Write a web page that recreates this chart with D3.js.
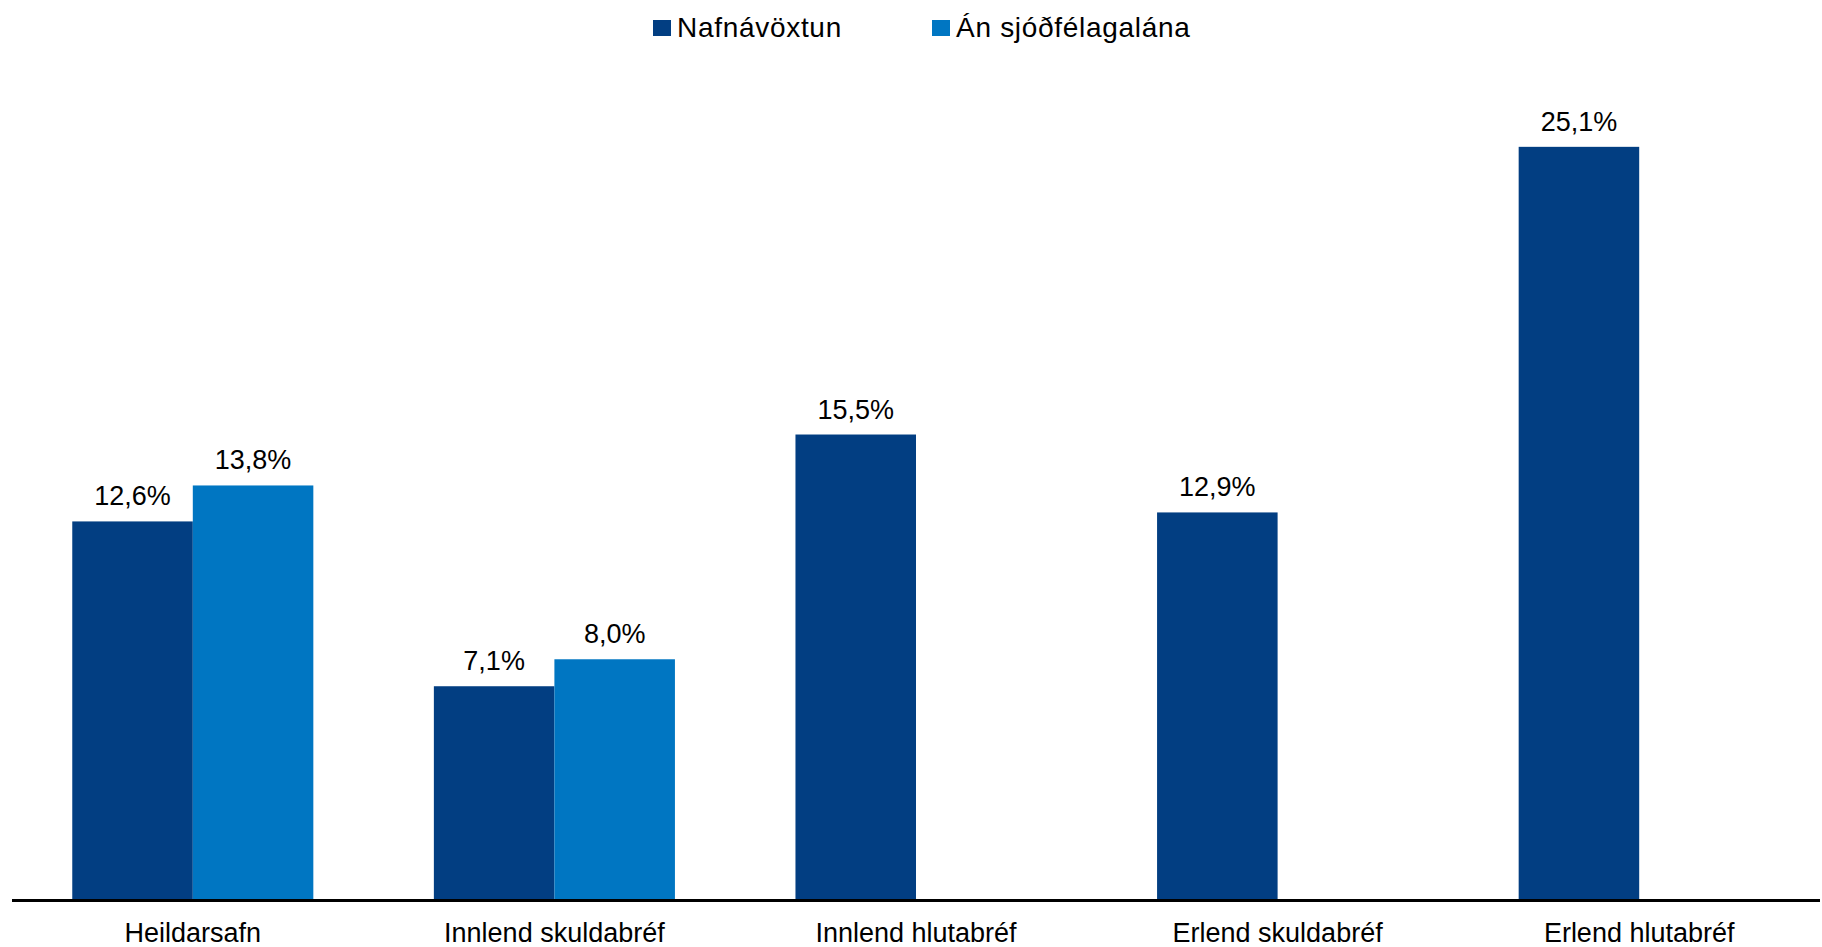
<!DOCTYPE html>
<html>
<head>
<meta charset="utf-8">
<script src="https://cdn.jsdelivr.net/npm/d3@7"></script>
<style>
  body { margin: 0; background: #fff; }
  svg { display: block; font-family: "Liberation Sans", Arial, sans-serif; }
</style>
</head>
<body>
<svg id="chart"></svg>
<script>
const categories = ['Heildarsafn', 'Innlend skuldabréf', 'Innlend hlutabréf', 'Erlend skuldabréf', 'Erlend hlutabréf'];
const seriesNames = ['Nafnávöxtun', 'Án sjóðfélagalána'];
const nafnavoxtun = [12.6, 7.1, 15.5, 12.9, 25.1];
const anSjodfelagalana = [13.8, 8.0, null, null, null];
const colors = ['#023e82', '#0076c2'];

const width = 1822, height = 947;
const svg = d3.select('#chart').attr('width', width).attr('height', height);

const x0 = d3.scaleBand().domain(categories).range([12, 1820]);
const x1 = d3.scaleBand().domain(seriesNames).range([0, x0.bandwidth()]).paddingOuter(0.5);
const y = d3.scaleLinear().domain([0, 30]).range([899, 0]);

const fmt = v => d3.format('.1f')(v).replace('.', ',') + '%';

const rows = categories.map((c, i) => ({
  cat: c,
  vals: [nafnavoxtun[i], anSjodfelagalana[i]]
    .map((v, j) => ({ key: seriesNames[j], v, j }))
    .filter(d => d.v != null)
}));

const g = svg.selectAll('g.grp').data(rows).enter().append('g')
  .attr('class', 'grp')
  .attr('transform', d => `translate(${x0(d.cat)},0)`);

g.selectAll('rect').data(d => d.vals).enter().append('rect')
  .attr('x', d => x1(d.key))
  .attr('y', d => y(d.v))
  .attr('width', x1.bandwidth())
  .attr('height', d => y(0) - y(d.v))
  .attr('fill', d => colors[d.j]);

g.selectAll('text.val').data(d => d.vals).enter().append('text')
  .attr('class', 'val')
  .attr('x', d => x1(d.key) + x1.bandwidth() / 2)
  .attr('y', d => y(d.v) - 16)
  .attr('text-anchor', 'middle')
  .attr('font-size', 27)
  .attr('fill', '#000')
  .text(d => fmt(d.v));

// baseline
svg.append('line')
  .attr('x1', 12).attr('x2', 1820)
  .attr('y1', y(0) + 1.5).attr('y2', y(0) + 1.5)
  .attr('stroke', '#000').attr('stroke-width', 3);

// category labels
svg.selectAll('text.cat').data(categories).enter().append('text')
  .attr('class', 'cat')
  .attr('x', d => x0(d) + x0.bandwidth() / 2)
  .attr('y', 942)
  .attr('text-anchor', 'middle')
  .attr('font-size', 27)
  .attr('fill', '#000')
  .text(d => d);

// legend
const legendX = [653, 932];
const leg = svg.selectAll('g.leg').data(seriesNames).enter().append('g')
  .attr('class', 'leg')
  .attr('transform', (d, i) => `translate(${legendX[i]},0)`);
leg.append('rect')
  .attr('x', 0).attr('y', 20).attr('width', 18).attr('height', 16)
  .attr('fill', (d, i) => colors[i]);
leg.append('text')
  .attr('x', 24).attr('y', 37)
  .attr('font-size', 28)
  .attr('letter-spacing', 0.7)
  .attr('fill', '#000')
  .text(d => d);
</script>
</body>
</html>
